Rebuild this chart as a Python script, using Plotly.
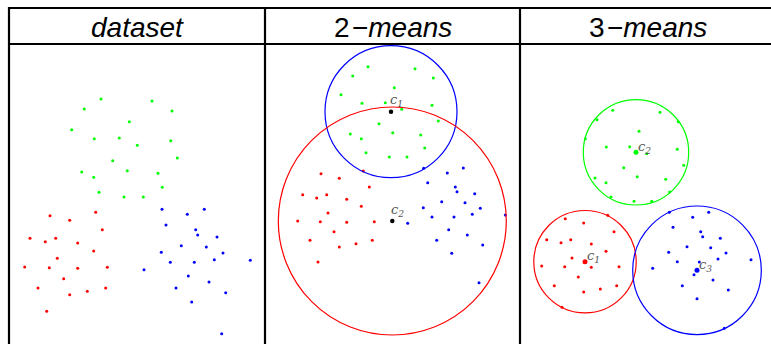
import plotly.graph_objects as go

# ---------------- data (image-pixel units) ----------------
headers = ["<i>dataset</i>", "2\u200a\u2212<i>means</i>", "3\u200a\u2212<i>means</i>"]

# panel 1: dataset
ds_green_x = [101, 152, 84.3, 172, 129.3, 71.7, 94.3, 119.3, 137.3, 170.7, 177.3, 112.7, 81.7, 127.3, 158, 93.7, 162.3, 99, 124, 143.3]
ds_green_y = [99, 101, 109, 111, 121.7, 129.7, 138.7, 138, 145.3, 140.7, 158, 160.7, 172, 170.7, 173.3, 177.3, 187.3, 192.3, 197, 197]
ds_red_x = [95.7, 50, 69.7, 102.3, 30, 45.3, 55.7, 77.7, 93.7, 57.3, 24.7, 49.3, 77.7, 107.3, 63.7, 38, 105.7, 87.3, 69.7, 46.7]
ds_red_y = [212.3, 215.7, 220.3, 229.7, 238.3, 241.7, 238.3, 243, 251, 258.3, 267, 267.7, 268.3, 267.3, 278.7, 288, 288, 291.3, 294.7, 311.3]
ds_blue_x = [162, 204.3, 187.3, 166, 195.7, 197.7, 217, 181.3, 206.3, 161.3, 223, 250.3, 214.3, 170.3, 194.3, 144, 188.3, 209, 176, 225.7, 191.7, 221.7]
ds_blue_y = [209.3, 209.3, 214.3, 225, 229.7, 235, 237, 245.7, 247, 252.3, 253, 260.3, 259.7, 262.3, 262.3, 269.7, 276, 282, 288, 292.7, 302, 333.7]

# panel 2: 2-means
k2_green_x = [368, 415, 352.7, 433.3, 394.3, 341, 362, 385.3, 401.7, 432, 438.3, 379, 350.3, 392.7, 420.7, 361.3, 424.7, 366, 389.3, 407]
k2_green_y = [66.7, 68.7, 76, 78, 87.7, 94.7, 103.3, 102.7, 109.3, 105.3, 121, 123.7, 134, 132.7, 135, 138.7, 148, 152.7, 157, 157]
k2_red_x = [363.3, 321, 339.3, 369.3, 302.7, 316.7, 326.7, 346.7, 361.3, 328, 297.7, 320.3, 346.7, 374.3, 334, 310, 372.3, 356, 339.3, 318]
k2_red_y = [171, 173.7, 178.3, 187, 194.7, 198, 194.7, 199.3, 206.3, 213, 221, 221.7, 222.3, 221.7, 231.7, 240.3, 240.3, 243.7, 247, 262]
k2_blue_x = [423.7, 463.3, 447.3, 427.7, 455.3, 457, 474.7, 441.7, 465, 423.3, 480.3, 505.3, 472.3, 432, 454, 407.7, 448.7, 467.3, 436.7, 482.7, 451.7, 479]
k2_blue_y = [168.3, 168, 173, 182.7, 187, 191.7, 193.7, 201.7, 202.7, 207.7, 208.3, 215, 214.3, 217, 217, 223.3, 229.7, 235, 240.3, 245, 253.3, 282.7]
k2_centers_x = [391, 392.3]
k2_centers_y = [111.7, 221]
k2_radii = [66, 114]
k2_circle_colors = ["#0000ff", "#ff0000"]
k2_labels = ["c<sub>1</sub>", "c<sub>2</sub>"]

# panel 3: 3-means
k3_green_x = [612.7, 660, 597, 678.3, 639, 585.3, 606.3, 629.7, 646.7, 677.3, 683.7, 623.7, 595, 637.3, 665.7, 606, 669.7, 611, 634, 651.7]
k3_green_y = [110.3, 112.3, 119.7, 121.7, 131.3, 138.7, 147, 146.7, 153.7, 149.3, 165.3, 167.7, 178, 176.7, 179.3, 182.7, 192, 197, 201.3, 201.3]
k3_red_x = [565.3, 583.7, 607.7, 614, 546.7, 561, 570.7, 591.3, 606, 572, 541.7, 564.7, 591.3, 619, 578.3, 554.3, 616.7, 600.3, 583.7, 562]
k3_red_y = [218.7, 223, 215.3, 231.7, 239.7, 242.7, 239.7, 244, 251.3, 258, 266, 266.7, 267.3, 266.7, 277, 285.7, 285.7, 289, 292, 307.3]
k3_blue_x = [669.3, 708.7, 692.7, 673, 700.7, 702.7, 720.3, 687, 710.7, 668.7, 726, 751, 718, 677.3, 699.3, 652.7, 694, 713, 682.3, 728.3, 697, 724.3]
k3_blue_y = [212.3, 212.3, 217.3, 227.3, 231.7, 236.7, 238.3, 246.7, 247.7, 252.3, 253, 259.7, 259, 261.7, 262, 268.3, 274.7, 280, 285.7, 290, 298.7, 328.3]
k3_centers_x = [585, 636, 697]
k3_centers_y = [261.7, 152.3, 270.3]
k3_radii = [51.2, 52.7, 64.3]
k3_colors = ["#ff0000", "#00ff00", "#0000ff"]
k3_labels = ["c<sub>1</sub>", "c<sub>2</sub>", "c<sub>3</sub>"]

# ---------------- figure ----------------
W, H = 771, 344
RED, GREEN, BLUE = "#ff0000", "#00ff00", "#0000ff"

fig = go.Figure()

def pts(x, y, color, size=3):
    fig.add_trace(go.Scatter(x=x, y=y, mode="markers",
                             marker=dict(color=color, size=size, line=dict(width=0)),
                             showlegend=False, hoverinfo="skip"))

for xs, ys, c in [(ds_green_x, ds_green_y, GREEN), (ds_red_x, ds_red_y, RED), (ds_blue_x, ds_blue_y, BLUE),
                  (k2_green_x, k2_green_y, GREEN), (k2_red_x, k2_red_y, RED), (k2_blue_x, k2_blue_y, BLUE),
                  (k3_green_x, k3_green_y, GREEN), (k3_red_x, k3_red_y, RED), (k3_blue_x, k3_blue_y, BLUE)]:
    pts(xs, ys, c)

shapes = []
# 2-means circles and centroids
for cx, cy, r, col in zip(k2_centers_x, k2_centers_y, k2_radii, k2_circle_colors):
    shapes.append(dict(type="circle", xref="x", yref="y", x0=cx - r, x1=cx + r, y0=cy - r, y1=cy + r,
                       line=dict(color=col, width=1.2)))
pts(k2_centers_x, k2_centers_y, "#000000", size=4.5)

# 3-means circles and centroids
for cx, cy, r, col in zip(k3_centers_x, k3_centers_y, k3_radii, k3_colors):
    shapes.append(dict(type="circle", xref="x", yref="y", x0=cx - r, x1=cx + r, y0=cy - r, y1=cy + r,
                       line=dict(color=col, width=1.2)))
fig.add_trace(go.Scatter(x=k3_centers_x, y=k3_centers_y, mode="markers",
                         marker=dict(color=k3_colors, size=5, line=dict(width=0)),
                         showlegend=False, hoverinfo="skip"))

# table grid
LW = 2.2
top, head, left = 8, 44, 9
cols = [left, 265, 520]
shapes.append(dict(type="line", xref="x", yref="y", x0=left - 1, x1=W, y0=top, y1=top, line=dict(color="black", width=LW)))
shapes.append(dict(type="line", xref="x", yref="y", x0=left - 1, x1=W, y0=head, y1=head, line=dict(color="black", width=LW)))
for cx in cols:
    shapes.append(dict(type="line", xref="x", yref="y", x0=cx, x1=cx, y0=top - 1, y1=H, line=dict(color="black", width=LW)))

annotations = []
centers = [137.5, 393, 648]
for cx, txt in zip(centers, headers):
    annotations.append(dict(x=cx, y=(top + head) / 2 + 1, xref="x", yref="y", text=txt, showarrow=False,
                            font=dict(family="Liberation Sans, Arial, sans-serif", size=28, color="black"),
                            xanchor="center", yanchor="middle"))

label_font = dict(family="DejaVu Serif, Liberation Serif, serif", size=13, color="#555555")
for cx, cy, lab in zip(k2_centers_x, k2_centers_y, k2_labels):
    annotations.append(dict(x=cx + 5, y=cy - 11, xref="x", yref="y", text=f"<i>{lab}</i>",
                            showarrow=False, font=label_font, xanchor="center", yanchor="middle"))
for cx, cy, lab in zip(k3_centers_x, k3_centers_y, k3_labels):
    annotations.append(dict(x=cx + 8, y=cy - 5, xref="x", yref="y", text=f"<i>{lab}</i>",
                            showarrow=False, font=label_font, xanchor="center", yanchor="middle"))

fig.update_layout(
    width=W, height=H, autosize=False,
    margin=dict(l=0, r=0, t=0, b=0, pad=0),
    paper_bgcolor="white", plot_bgcolor="white",
    xaxis=dict(range=[0, W], visible=False, fixedrange=True),
    yaxis=dict(range=[H, 0], visible=False, fixedrange=True),
    shapes=shapes, annotations=annotations,
)

fig.write_html("out.html", config={"displayModeBar": False},
               post_script="document.body.style.margin='0';")
